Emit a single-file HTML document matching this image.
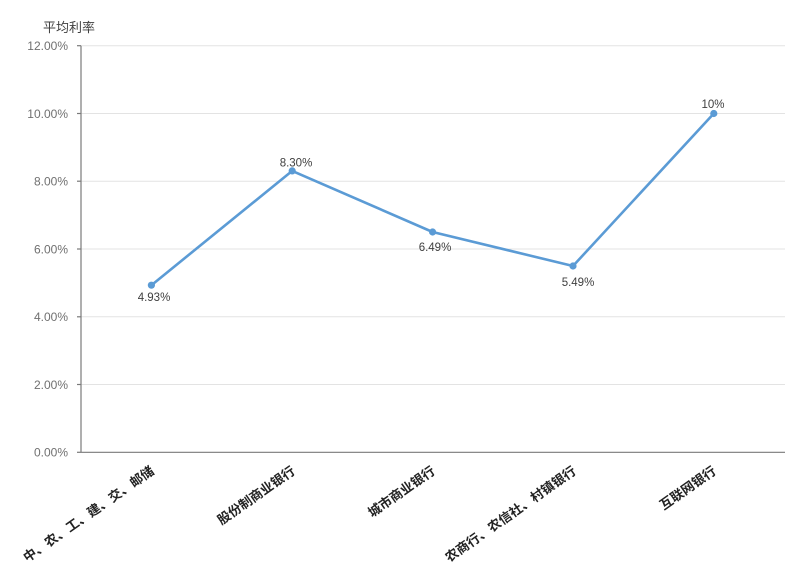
<!DOCTYPE html>
<html>
<head>
<meta charset="utf-8">
<style>
html,body{margin:0;padding:0;background:#fff;}
svg{display:block;}
</style>
</head>
<body>
<svg width="799" height="567" viewBox="0 0 799 567" xmlns="http://www.w3.org/2000/svg">
  <rect width="799" height="567" fill="#fff"/>
  <!-- gridlines -->
  <g stroke="#e3e3e3" stroke-width="1">
    <line x1="81" y1="45.7" x2="785" y2="45.7"/>
    <line x1="81" y1="113.5" x2="785" y2="113.5"/>
    <line x1="81" y1="181.2" x2="785" y2="181.2"/>
    <line x1="81" y1="249" x2="785" y2="249"/>
    <line x1="81" y1="316.8" x2="785" y2="316.8"/>
    <line x1="81" y1="384.5" x2="785" y2="384.5"/>
  </g>
  <!-- axes -->
  <g stroke="#7a7a7a" stroke-width="1.2">
    <line x1="81" y1="45.7" x2="81" y2="452.3"/>
    <line x1="81" y1="452.3" x2="785" y2="452.3"/>
    <line x1="77" y1="45.7" x2="81" y2="45.7"/>
    <line x1="77" y1="113.5" x2="81" y2="113.5"/>
    <line x1="77" y1="181.2" x2="81" y2="181.2"/>
    <line x1="77" y1="249" x2="81" y2="249"/>
    <line x1="77" y1="316.8" x2="81" y2="316.8"/>
    <line x1="77" y1="384.5" x2="81" y2="384.5"/>
    <line x1="77" y1="452.3" x2="81" y2="452.3"/>
  </g>
  <!-- y tick labels -->
  <g font-family="Liberation Sans, sans-serif" font-size="12" fill="#707070" text-anchor="end">
    <text x="68" y="50">12.00%</text>
    <text x="68" y="118">10.00%</text>
    <text x="68" y="185.5">8.00%</text>
    <text x="68" y="253.5">6.00%</text>
    <text x="68" y="321">4.00%</text>
    <text x="68" y="389">2.00%</text>
    <text x="68" y="456.5">0.00%</text>
  </g>
  <!-- title -->
  <text x="43" y="32" font-family="Liberation Sans, 'Noto Sans CJK SC', sans-serif" font-size="13" fill="#404040">平均利率</text>
  <!-- series -->
  <polyline points="151.4,285.2 292.2,170.9 432.6,232 573,266 713.8,113.5" fill="none" stroke="#5b9bd5" stroke-width="2.6" stroke-linejoin="round"/>
  <g fill="#5b9bd5">
    <circle cx="151.4" cy="285.2" r="3.6"/>
    <circle cx="292.2" cy="170.9" r="3.6"/>
    <circle cx="432.6" cy="232" r="3.6"/>
    <circle cx="573" cy="266" r="3.6"/>
    <circle cx="713.8" cy="113.5" r="3.6"/>
  </g>
  <!-- data labels -->
  <g font-family="Liberation Sans, sans-serif" font-size="11.5" fill="#404040" text-anchor="middle">
    <text x="154" y="301">4.93%</text>
    <text x="296" y="166.5">8.30%</text>
    <text x="435" y="251">6.49%</text>
    <text x="578" y="286">5.49%</text>
    <text x="713" y="108">10%</text>
  </g>
  <!-- category labels -->
  <g font-family="Liberation Sans, 'Noto Sans CJK SC', sans-serif" font-size="13" font-weight="bold" fill="#222" text-anchor="end">
    <text transform="translate(155,473) rotate(-35)">中、农、工、建、交、邮储</text>
    <text transform="translate(296,473) rotate(-35)">股份制商业银行</text>
    <text transform="translate(436,473) rotate(-35)">城市商业银行</text>
    <text transform="translate(577,473) rotate(-35)">农商行、农信社、村镇银行</text>
    <text transform="translate(717,473) rotate(-35)">互联网银行</text>
  </g>
</svg>
</body>
</html>
